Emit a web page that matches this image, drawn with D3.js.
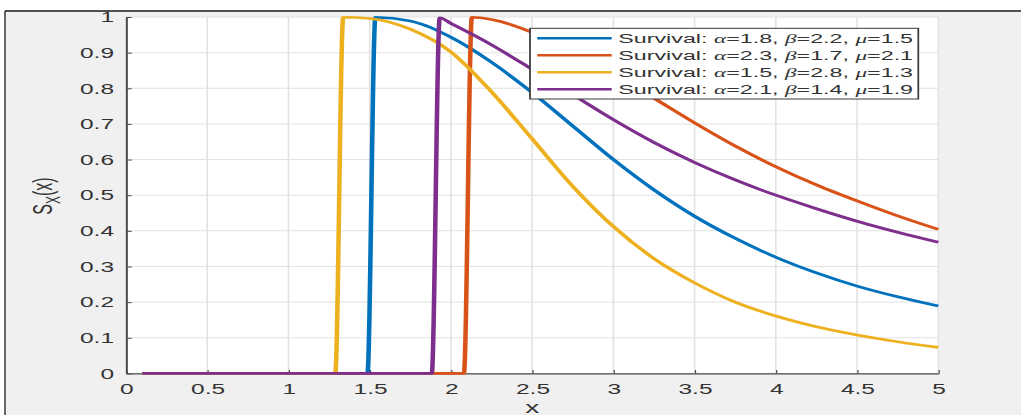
<!DOCTYPE html>
<html><head><meta charset="utf-8">
<script src="https://cdn.jsdelivr.net/npm/d3@7"></script>
<style>html,body{margin:0;padding:0;background:#fff;overflow:hidden}</style>
</head><body>
<script>
// ---- data ----
const xTicks = [0, 0.5, 1, 1.5, 2, 2.5, 3, 3.5, 4, 4.5, 5];
const xTickLabels = ["0", "0.5", "1", "1.5", "2", "2.5", "3", "3.5", "4", "4.5", "5"];
const yTicks = [0, 0.1, 0.2, 0.3, 0.4, 0.5, 0.6, 0.7, 0.8, 0.9, 1];
const yTickLabels = ["0", "0.1", "0.2", "0.3", "0.4", "0.5", "0.6", "0.7", "0.8", "0.9", "1"];

const alphas = [1.8, 2.3, 1.5, 2.1];
const betas  = [2.2, 1.7, 2.8, 1.4];
const mus    = [1.5, 2.1, 1.3, 1.9];
const colors = ["#0072BD", "#D95319", "#EDB120", "#7E2F8E"];

const blueX   = [0.1, 1.486, 1.535, 1.75, 2.0, 2.25, 2.5, 2.75, 3.0, 3.25, 3.5, 3.75, 4.0, 4.25, 4.5, 4.75, 5.0];
const blueY   = [0, 0, 0.999, 0.989, 0.943, 0.873, 0.788, 0.694, 0.600, 0.515, 0.441, 0.379, 0.326, 0.282, 0.245, 0.215, 0.189];

const orangeX = [0.1, 2.080, 2.129, 2.25, 2.5, 2.75, 3.0, 3.25, 3.5, 3.75, 4.0, 4.25, 4.5, 4.75, 5.0];
const orangeY = [0, 0, 0.9995, 0.993, 0.957, 0.902, 0.84, 0.772, 0.703, 0.638, 0.58, 0.529, 0.484, 0.442, 0.404];

const yellowX = [0.1, 1.288, 1.337, 1.5, 1.75, 2.0, 2.25, 2.5, 2.75, 3.0, 3.25, 3.5, 3.75, 4.0, 4.25, 4.5, 4.75, 5.0];
const yellowY = [0, 0, 0.9995, 0.996, 0.966, 0.902, 0.79, 0.658, 0.525, 0.412, 0.322, 0.254, 0.200, 0.161, 0.131, 0.108, 0.089, 0.073];

const purpleX = [0.1, 1.882, 1.931, 2.0, 2.25, 2.5, 2.75, 3.0, 3.25, 3.5, 3.75, 4.0, 4.25, 4.5, 4.75, 5.0];
const purpleY = [0, 0, 0.998, 0.982, 0.922, 0.853, 0.782, 0.712, 0.648, 0.592, 0.543, 0.50, 0.462, 0.427, 0.396, 0.368];

const seriesX = [blueX, orangeX, yellowX, purpleX];
const seriesY = [blueY, orangeY, yellowY, purpleY];

// ---- layout ----
const W = 1021, H = 415, SX = 1.75;
const L = 126, R = 938.3, T = 17, B = 373.4;
const FONT = "'Liberation Sans', Arial, Helvetica, sans-serif";
const TXT = "#333333";
const LW = 2.6;

const svg = d3.select("body").append("svg").attr("width", W).attr("height", H);
svg.append("rect").attr("x", 5).attr("y", 11).attr("width", W).attr("height", H).attr("fill", "#f0f0f0");
svg.append("line").attr("x1", 5).attr("x2", W).attr("y1", 11).attr("y2", 11).attr("stroke", "#1a1a1a").attr("stroke-width", 1.5);
svg.append("line").attr("x1", 5).attr("x2", 5).attr("y1", 11).attr("y2", H).attr("stroke", "#1a1a1a").attr("stroke-width", 1.3);

const g = svg.append("g").attr("transform", `scale(${SX},1)`);
const x = d3.scaleLinear().domain([0, 5]).range([L / SX, R / SX]);
const y = d3.scaleLinear().domain([0, 1]).range([B, T]);

g.append("rect").attr("x", L / SX).attr("y", T).attr("width", (R - L) / SX).attr("height", B - T).attr("fill", "#fff");

// grid
g.append("g").selectAll("line").data(xTicks).join("line")
  .attr("x1", d => x(d)).attr("x2", d => x(d)).attr("y1", T).attr("y2", B)
  .attr("stroke", "#e2e2e2").attr("stroke-width", 0.9);
g.append("g").selectAll("line").data(yTicks).join("line")
  .attr("x1", L / SX).attr("x2", R / SX).attr("y1", d => y(d)).attr("y2", d => y(d))
  .attr("stroke", "#e2e2e2").attr("stroke-width", 1);

// axes
const ya = g.append("g").attr("transform", `translate(${L / SX},0)`)
  .call(d3.axisLeft(y).tickValues(yTicks).tickFormat((d, i) => yTickLabels[i])
    .tickSizeInner(-5.7 / SX).tickSizeOuter(0).tickPadding(12 / SX));
ya.select(".domain").attr("stroke", "#4a4a4a").attr("stroke-width", 1.1);
ya.selectAll(".tick line").attr("stroke", "#4a4a4a").attr("stroke-width", 1);
ya.selectAll(".tick text").attr("fill", TXT).attr("font-size", 14).attr("font-family", FONT).attr("dy", "0.34em");

const xa = g.append("g").attr("transform", `translate(0,${B})`)
  .call(d3.axisBottom(x).tickValues(xTicks).tickFormat((d, i) => xTickLabels[i])
    .tickSizeInner(-3.4).tickSizeOuter(0).tickPadding(10.6));
xa.select(".domain").attr("stroke", "#4a4a4a").attr("stroke-width", 1.2);
xa.selectAll(".tick line").attr("stroke", "#4a4a4a").attr("stroke-width", 0.7);
xa.selectAll(".tick text").attr("fill", TXT).attr("font-size", 14).attr("font-family", FONT);

// lines
const line = d3.line().x(d => x(d[0])).y(d => y(d[1])).curve(d3.curveMonotoneX);
seriesX.forEach((xs, i) => {
  const pts = xs.map((v, j) => [v, seriesY[i][j]]);
  g.append("path").attr("d", line(pts)).attr("fill", "none")
    .attr("stroke", colors[i]).attr("stroke-width", LW)
    .attr("stroke-linejoin", "round");
});

// axis labels
const yl = g.append("text").attr("transform", `translate(${52 / SX},196) rotate(-90)`)
  .attr("text-anchor", "middle").attr("font-family", FONT).attr("font-size", 16).attr("fill", TXT);
yl.append("tspan").text("S");
yl.append("tspan").attr("font-size", 12).attr("dy", 4.5).text("X");
yl.append("tspan").attr("dy", -4.5).text("(x)");

g.append("text").attr("x", x(2.5)).attr("y", 413).attr("text-anchor", "middle")
  .attr("font-family", FONT).attr("font-size", 16).attr("fill", TXT).text("x");

// legend
const lg = g.append("g");
lg.append("rect").attr("x", 530 / SX).attr("y", 28.3).attr("width", (918.3 - 530) / SX).attr("height", 70.7)
  .attr("fill", "#fff").attr("stroke", "#3a3a3a").attr("stroke-width", 1);
const GREEK = "'Liberation Serif', 'Times New Roman', serif";
alphas.forEach((a, i) => {
  const ry = 38.3 + i * 17;
  lg.append("line").attr("x1", 537.3 / SX).attr("x2", 611.7 / SX).attr("y1", ry).attr("y2", ry)
    .attr("stroke", colors[i]).attr("stroke-width", LW);
  const t = lg.append("text").attr("x", 618.3 / SX).attr("y", ry + 5)
    .attr("font-family", FONT).attr("font-size", 13.3).attr("fill", TXT);
  t.append("tspan").text("Survival: ");
  t.append("tspan").attr("font-family", GREEK).attr("font-style", "italic").text("α");
  t.append("tspan").text(`=${a}, `);
  t.append("tspan").attr("font-family", GREEK).attr("font-style", "italic").text("β");
  t.append("tspan").text(`=${betas[i]}, `);
  t.append("tspan").attr("font-family", GREEK).attr("font-style", "italic").text("μ");
  t.append("tspan").text(`=${mus[i]}`);
});
</script>
</body></html>
